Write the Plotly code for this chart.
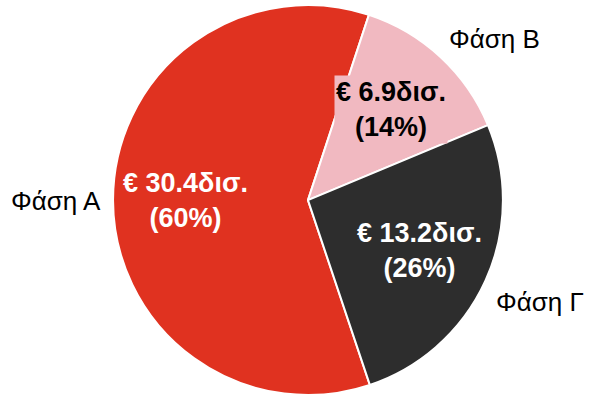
import math
import plotly.graph_objects as go

# Funding by phase (billion euro)
phases = ["Φάση Α", "Φάση Β", "Φάση Γ"]
amounts = [30.4, 6.9, 13.2]
shares = ["60%", "14%", "26%"]
colors = ["#E03220", "#F1B9C1", "#2D2D2D"]
value_font_colors = ["white", "black", "white"]
value_bg = [None, "#F1B9C1", None]

W, H = 590, 395
START = 161.5  # degrees clockwise from 12 o'clock where the first slice begins
dom = dict(x=[0.1915, 0.8525], y=[0.0, 0.987])

fig = go.Figure(go.Pie(
    labels=phases,
    values=amounts,
    sort=False,
    direction="clockwise",
    rotation=START,
    domain=dom,
    marker=dict(colors=colors, line=dict(color="white", width=2)),
    textinfo="none",
    hoverinfo="skip",
    showlegend=False,
))

# pie geometry in pixels, derived from the domain
cx = (dom["x"][0] + dom["x"][1]) / 2 * W
cy = (1 - (dom["y"][0] + dom["y"][1]) / 2) * H
r = min((dom["x"][1] - dom["x"][0]) * W, (dom["y"][1] - dom["y"][0]) * H) / 2


def to_paper(px, py):
    return px / W, 1 - py / H


total = sum(amounts)
acc = 0.0
annotations = []
for name, amt, share, fc, bg in zip(phases, amounts, shares, value_font_colors, value_bg):
    mid = math.radians(START + 360 * (acc + amt / 2) / total)
    acc += amt
    s, c = math.sin(mid), math.cos(mid)

    # amount and share inside the slice
    x, y = to_paper(cx + 0.63 * r * s, cy - 0.63 * r * c)
    annotations.append(dict(
        x=x, y=y, xref="paper", yref="paper", showarrow=False,
        xanchor="center", yanchor="middle",
        text=f"<b>€ {amt}δισ.<br>({share})</b>",
        font=dict(family="Liberation Sans, Arial", size=27, color=fc),
        bgcolor=bg, borderpad=1, align="center",
    ))

    # phase name just outside the rim
    x, y = to_paper(cx + 1.05 * r * s, cy - 1.05 * r * c)
    above = c > 0.3
    annotations.append(dict(
        x=x, y=y, xref="paper", yref="paper", showarrow=False,
        text=name,
        font=dict(family="Liberation Sans, Arial", size=26, color="black"),
        xanchor="left" if s > 0.3 else ("right" if s < -0.3 else "center"),
        yanchor="bottom" if above else ("top" if c < -0.3 else "middle"),
        yshift=-6 if above else 0,
    ))

fig.update_layout(
    width=W,
    height=H,
    margin=dict(l=0, r=0, t=0, b=0),
    paper_bgcolor="white",
    plot_bgcolor="white",
    annotations=annotations,
)

fig.write_html("out.html")
